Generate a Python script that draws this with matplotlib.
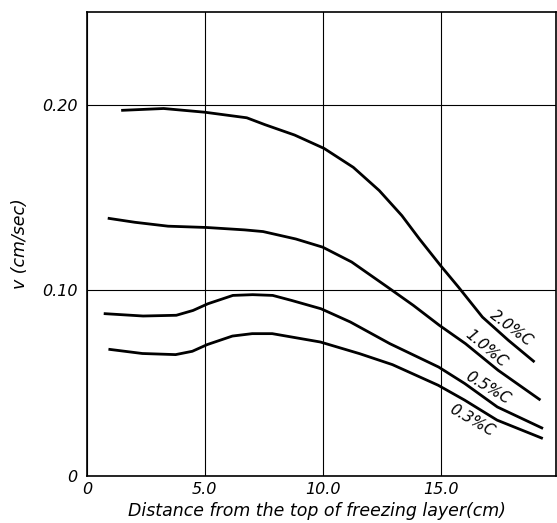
import matplotlib
matplotlib.use("Agg")
import matplotlib.pyplot as plt

# curves: distance (cm) vs v (cm/sec)
x_20 = [1.45, 3.25, 5.0, 6.78, 7.55, 8.81, 10.06, 11.3, 12.4, 13.36, 14.1, 15.0, 15.76, 16.78, 17.88, 18.99]
v_20 = [0.197, 0.198, 0.196, 0.193, 0.1893, 0.1837, 0.1765, 0.1663, 0.1538, 0.1403, 0.1278, 0.1134, 0.1018, 0.0856, 0.0731, 0.0614]

x_10 = [0.88, 2.03, 3.44, 5.07, 6.69, 7.47, 8.86, 10.0, 11.23, 12.75, 13.85, 14.95, 16.06, 17.44, 19.24]
v_10 = [0.1389, 0.1367, 0.1346, 0.1339, 0.1326, 0.1317, 0.1277, 0.1233, 0.1153, 0.1018, 0.0919, 0.0812, 0.0713, 0.0570, 0.0409]

x_05 = [0.71, 2.38, 3.79, 4.5, 5.13, 6.19, 7.03, 7.88, 8.68, 9.93, 11.17, 12.85, 14.92, 16.03, 17.41, 19.35]
v_05 = [0.0875, 0.0862, 0.0866, 0.0892, 0.0928, 0.0973, 0.0977, 0.0973, 0.0946, 0.0901, 0.0830, 0.0713, 0.0587, 0.0498, 0.0372, 0.0256]

x_03 = [0.91, 2.35, 3.76, 4.47, 5.1, 6.17, 7.01, 7.86, 9.9, 11.57, 12.96, 14.9, 16.02, 17.4, 19.34]
v_03 = [0.0683, 0.066, 0.0654, 0.0672, 0.0708, 0.0754, 0.0767, 0.0767, 0.0722, 0.0659, 0.0600, 0.0489, 0.0409, 0.0301, 0.0202]

labels = ["2.0%C", "1.0%C", "0.5%C", "0.3%C"]
label_x = [18.0, 16.95, 17.0, 16.35]
label_y = [0.0796, 0.0688, 0.0473, 0.0301]
label_rot = [-37, -40, -31, -30]

xticks = [0, 5, 10, 15]
xtick_labels = ["0", "5.0", "10.0", "15.0"]
yticks = [0, 0.10, 0.20]
ytick_labels = ["0", "0.10", "0.20"]

fig = plt.figure(figsize=(5.57, 5.23), dpi=100)
ax = fig.add_axes([87 / 557, 47 / 523, 469 / 557, 464 / 523])

for xs, vs in [(x_20, v_20), (x_10, v_10), (x_05, v_05), (x_03, v_03)]:
    ax.plot(xs, vs, color="black", lw=2.0, solid_capstyle="butt", solid_joinstyle="round")

for t, lx, ly, r in zip(labels, label_x, label_y, label_rot):
    ax.text(lx, ly, t, rotation=r, ha="center", va="center",
            fontsize=11, style="italic", rotation_mode="anchor")

ax.set_xlim(0, 19.9)
ax.set_ylim(0, 0.25)
ax.set_xticks(xticks)
ax.set_xticklabels(xtick_labels)
ax.set_yticks(yticks)
ax.set_yticklabels(ytick_labels)
ax.tick_params(length=0, labelsize=11.5)
ax.tick_params(axis="y", pad=7)
ax.tick_params(axis="x", pad=4)
for lab in ax.get_xticklabels() + ax.get_yticklabels():
    lab.set_style("italic")

ax.grid(True, color="black", lw=0.8)
for s in ax.spines.values():
    s.set_linewidth(1.2)

ax.set_xlabel("Distance from the top of freezing layer(cm)", fontsize=12.5,
              style="italic", labelpad=4, x=0.49)
ax.set_ylabel("v (cm/sec)", fontsize=12.5, style="italic", labelpad=9)

fig.savefig("out.png", dpi=100)
